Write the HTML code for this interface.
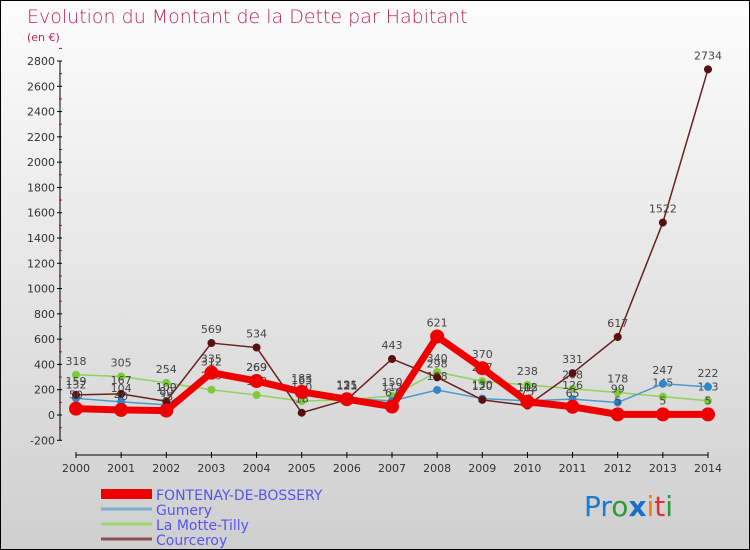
<!DOCTYPE html>
<html><head><meta charset="utf-8"><style>
body{margin:0}
#c{position:relative;width:748px;height:548px;border:1px solid #000;background:linear-gradient(#fdfdfd,#cfcfcf);font-family:"DejaVu Sans","Liberation Sans",sans-serif;overflow:hidden}
</style></head><body>
<div id="c">
<svg id="s" width="748" height="548" xmlns="http://www.w3.org/2000/svg">
<text x="26" y="22" font-size="19" fill="#c2245a" font-family="DejaVu Sans, sans-serif" font-weight="200">Evolution du Montant de la Dette par Habitant</text>
<text x="26" y="40" font-size="11" fill="#c2245a">(en €)</text>
<g id="axes"></g><g id="series"></g><g id="legend"></g>
<text x="583" y="515" font-size="28" font-family="DejaVu Sans, sans-serif"><tspan fill="#1a7ccc">Pr</tspan><tspan fill="#2a9a3a">o</tspan><tspan fill="#1a6ec8" font-weight="bold">x</tspan><tspan fill="#f07a10">i</tspan><tspan fill="#e03030">t</tspan><tspan fill="#2a9a3a">i</tspan></text>
</svg></div>
<script>
const years=[2000,2001,2002,2003,2004,2005,2006,2007,2008,2009,2010,2011,2012,2013,2014];
const yTicks=[-200,0,200,400,600,800,1000,1200,1400,1600,1800,2000,2200,2400,2600,2800];
const fontenay=[50,40,35,335,269,183,125,67,621,370,105,65,5,5,5];
const gumery=[132,104,80,312,269,165,131,112,198,130,112,126,99,247,222];
const motte=[318,305,254,200,158,110,121,150,340,267,238,208,178,145,113];
const courceroy=[159,167,109,569,534,18,121,443,298,120,75,331,617,1522,2734];
const names=["FONTENAY-DE-BOSSERY","Gumery","La Motte-Tilly","Courceroy"];
const NS="http://www.w3.org/2000/svg";
function X(i){return 75+i*(707-75)/14;}
function Y(v){return 414-v*(354/2800);}
function mk(t,a,p){const e=document.createElementNS(NS,t);for(const k in a)e.setAttribute(k,a[k]);p.appendChild(e);return e;}
const ax=document.getElementById('axes');
let yl=mk('line',{x1:59,y1:Y(2800),x2:59,y2:Y(-200),stroke:'#000'},ax);


yTicks.forEach(v=>{
 mk('line',{x1:56,x2:61,y1:Y(v),y2:Y(v),stroke:'#000'},ax);
 mk('line',{x1:58,x2:61,y1:Y(v+100),y2:Y(v+100),stroke:'#d00'},ax);
 const t=mk('text',{x:54,y:Y(v)+4,'font-size':11,'text-anchor':'end',fill:'#333'},ax);
 t.textContent=v;
 
 
});
let xl=mk('line',{x1:75,y1:454,x2:707,y2:454,stroke:'#000'},ax);


years.forEach((y,i)=>{
 mk('line',{x1:X(i),x2:X(i),y1:451,y2:457,stroke:'#000'},ax);
 const t=mk('text',{x:X(i),y:471,'font-size':11,'text-anchor':'middle',fill:'#333'},ax);
 t.textContent=y;
 
 
});
const sg=document.getElementById('series');
const defs=[[motte,'#8fd35a','#7ccc3a',1.5,4,'la-motte-tilly'],[gumery,'#4a9ad0','#2f86c8',1.5,4,'gumery'],[courceroy,'#6b2020','#5a1010',1.5,4,'courceroy'],[fontenay,'#ee0000','#ee0000',7,7,'fontenay-de-bossery']];
defs.forEach(([d,c,mc,w,r,n])=>{
 const g=mk('g',{},sg);
 
 
 mk('polyline',{points:d.map((v,i)=>X(i)+','+Y(v)).join(' '),fill:'none',stroke:c,'stroke-width':w,'stroke-linejoin':'round'},g);
 d.forEach((v,i)=>{
  const p=mk('circle',{cx:X(i),cy:Y(v),r:r,fill:mc},g);
  
  
  const t=mk('text',{x:X(i),y:Y(v)-10,'font-size':11,'text-anchor':'middle',fill:'#444'},g);
  t.textContent=v;
  
  
 });
});
const lg=document.getElementById('legend');
const lc=['#ee0000','#7aaed0','#9ad870','#8a5050'],lw=[10,3,3,3];
names.forEach((n,i)=>{
 const y=493+i*15;
 const g=mk('g',{},lg);
 
 
 mk('line',{x1:100,x2:151,y1:y,y2:y,stroke:lc[i],'stroke-width':lw[i]},g);
 const t=mk('text',{x:155,y:y+6,'font-size':14,fill:'#5555ee'},g);
 t.textContent=n;
});
</script>
</body></html>
